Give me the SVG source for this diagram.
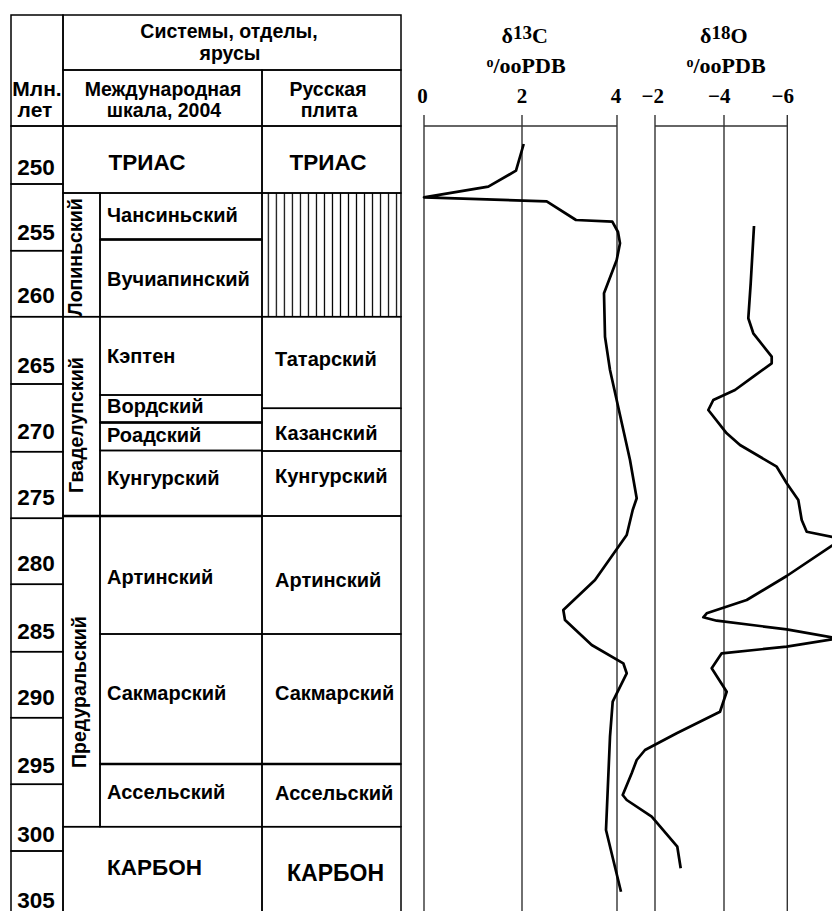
<svg xmlns="http://www.w3.org/2000/svg" width="832" height="911" viewBox="0 0 832 911">
<style>
.c{fill:none;stroke:#000;stroke-width:1.5}
.thk{stroke:#000;stroke-width:2.6}
.t{font-family:"Liberation Sans",Arial,sans-serif;font-weight:bold;font-size:19.5px;fill:#000}
.st{font-size:20px}
.b{font-size:22.5px}
.m{text-anchor:middle}
.s{font-family:"Liberation Serif","Times New Roman",serif;font-weight:bold;font-size:21px;fill:#000}
.ax{stroke:#333;stroke-width:1.4;fill:none}
.crv{fill:none;stroke:#000;stroke-width:2.7;stroke-linejoin:round;stroke-linecap:butt}
.h{stroke:#000;stroke-width:1.2}
</style>
<defs>
<pattern id="hatch" patternUnits="userSpaceOnUse" x="264.3" y="0" width="8.02" height="10">
<line x1="4" y1="0" x2="4" y2="10" class="h"/>
</pattern>
</defs>
<rect x="0" y="0" width="832" height="911" fill="#fff"/>

<!-- header -->
<g id="hdr-age"><rect class="c" x="11" y="15" width="52" height="111"/><text class="t m" x="37" y="96" style="font-size:21px">Млн.</text><text class="t m" x="35" y="117" style="font-size:21px">лет</text></g>
<g id="hdr-sys"><rect class="c" x="63" y="15" width="338" height="55"/><text class="t m" x="229" y="38">Системы, отделы,</text><text class="t m" x="230" y="60">ярусы</text></g>
<g id="hdr-intl"><rect class="c" x="63" y="70" width="199" height="56"/><text class="t m" x="163" y="96">Международная</text><text class="t m" x="164" y="117">шкала, 2004</text></g>
<g id="hdr-rus"><rect class="c" x="262" y="70" width="139" height="56"/><text class="t m" x="328" y="96">Русская</text><text class="t m" x="329" y="117">плита</text></g>

<!-- age column -->
<g id="age-250"><rect class="c" x="11" y="126" width="52" height="58"/><text class="t b m" x="36" y="175">250</text></g>
<g id="age-255"><rect class="c" x="11" y="184" width="52" height="66.7"/><text class="t b m" x="36" y="240">255</text></g>
<g id="age-260"><rect class="c" x="11" y="250.7" width="52" height="66"/><text class="t b m" x="36" y="303">260</text></g>
<g id="age-265"><rect class="c" x="11" y="316.7" width="52" height="67.3"/><text class="t b m" x="36" y="372.5">265</text></g>
<g id="age-270"><rect class="c" x="11" y="384" width="52" height="67.7"/><text class="t b m" x="36" y="439">270</text></g>
<g id="age-275"><rect class="c" x="11" y="451.7" width="52" height="66.6"/><text class="t b m" x="36" y="505">275</text></g>
<g id="age-280"><rect class="c" x="11" y="518.3" width="52" height="66"/><text class="t b m" x="36" y="571">280</text></g>
<g id="age-285"><rect class="c" x="11" y="584.3" width="52" height="67.4"/><text class="t b m" x="36" y="639">285</text></g>
<g id="age-290"><rect class="c" x="11" y="651.7" width="52" height="66"/><text class="t b m" x="36" y="705">290</text></g>
<g id="age-295"><rect class="c" x="11" y="717.7" width="52" height="66.6"/><text class="t b m" x="36" y="773">295</text></g>
<g id="age-300"><rect class="c" x="11" y="784.3" width="52" height="66.7"/><text class="t b m" x="36" y="841.5">300</text></g>
<g id="age-305"><rect class="c" x="11" y="851" width="52" height="80"/><text class="t b m" x="36" y="907.5">305</text></g>

<!-- international scale -->
<g id="intl-trias"><rect class="c" x="63" y="126" width="199" height="67"/><text class="t b m" x="147" y="170">ТРИАС</text></g>
<g id="ser-lopin"><rect class="c" x="63" y="193" width="37" height="123.7"/><text class="t" transform="translate(81.5,316) rotate(-90)">Лопиньский</text></g>
<g id="st-chans"><rect class="c" x="100" y="193" width="162" height="46.5"/><line class="thk" x1="100" y1="239.5" x2="262" y2="239.5"/><text class="t st" x="107" y="222">Чансиньский</text></g>
<g id="st-vuch"><rect class="c" x="100" y="239.5" width="162" height="77.2"/><text class="t st" x="107" y="286">Вучиапинский</text></g>
<g id="ser-guad"><rect class="c" x="63" y="316.7" width="37" height="199.3"/><text class="t" transform="translate(82.5,493) rotate(-90)">Гваделупский</text></g>
<g id="st-kep"><rect class="c" x="100" y="316.7" width="162" height="78.3"/><text class="t st" x="107" y="363">Кэптен</text></g>
<g id="st-word"><rect class="c" x="100" y="395" width="162" height="27.5"/><text class="t st" x="107" y="413">Вордский</text></g>
<g id="st-road"><rect class="c" x="100" y="422.5" width="162" height="28"/><line class="thk" x1="100" y1="422.5" x2="262" y2="422.5"/><text class="t st" x="107" y="442">Роадский</text></g>
<g id="st-kung"><rect class="c" x="100" y="450.5" width="162" height="65.5"/><text class="t st" x="107" y="485">Кунгурский</text></g>
<g id="ser-preur"><rect class="c" x="63" y="516" width="37" height="310.7"/><line class="thk" x1="63" y1="516" x2="262" y2="516"/><text class="t" transform="translate(86,768) rotate(-90)">Предуральский</text></g>
<g id="st-art"><rect class="c" x="100" y="516" width="162" height="118"/><text class="t st" x="107" y="584">Артинский</text></g>
<g id="st-sakm"><rect class="c" x="100" y="634" width="162" height="130"/><text class="t st" x="107" y="700">Сакмарский</text></g>
<g id="st-assel"><rect class="c" x="100" y="764" width="162" height="62.7"/><line class="thk" x1="100" y1="764" x2="262" y2="764"/><text class="t st" x="107" y="799">Ассельский</text></g>
<g id="intl-carb"><rect class="c" x="63" y="826.7" width="199" height="110"/><text class="t b" x="107" y="875">КАРБОН</text></g>

<!-- russian plate -->
<g id="rus-trias"><rect class="c" x="262" y="126" width="139" height="67"/><text class="t b m" x="328" y="170">ТРИАС</text></g>
<g id="rus-gap"><rect x="262" y="193" width="139" height="123.7" fill="url(#hatch)"/><rect class="c" x="262" y="193" width="139" height="123.7"/></g>
<g id="rus-tat"><rect class="c" x="262" y="316.7" width="139" height="91.6"/><text class="t st" x="275" y="366">Татарский</text></g>
<g id="rus-kaz"><rect class="c" x="262" y="408.3" width="139" height="42.7"/><text class="t st" x="275" y="440">Казанский</text></g>
<g id="rus-kung"><rect class="c" x="262" y="451" width="139" height="65"/><text class="t st" x="275" y="483">Кунгурский</text></g>
<g id="rus-art"><rect class="c" x="262" y="516" width="139" height="118"/><text class="t st" x="275" y="587">Артинский</text></g>
<g id="rus-sakm"><rect class="c" x="262" y="634" width="139" height="130"/><line class="thk" x1="262" y1="764" x2="401" y2="764"/><text class="t st" x="275" y="700">Сакмарский</text></g>
<g id="rus-assel"><rect class="c" x="262" y="764" width="139" height="62.7"/><text class="t st" x="275" y="800">Ассельский</text></g>
<g id="rus-carb"><rect class="c" x="262" y="826.7" width="139" height="110"/><text class="t" x="287" y="881" style="font-size:23px">КАРБОН</text></g>

<!-- carbon isotope chart -->
<g id="d13c-axis">
<text class="s" x="501.5" y="43" style="font-size:22px">δ<tspan style="font-size:19px" dy="-4">13</tspan><tspan dy="4">C</tspan></text>
<text class="s" x="486.5" y="73" style="font-size:22px"><tspan style="font-size:14px" dy="-6">o</tspan><tspan dy="6">/ooPDB</tspan></text>
<text class="s m" x="422.5" y="103">0</text>
<text class="s m" x="522" y="103">2</text>
<text class="s m" x="616" y="103">4</text>
<line class="ax" x1="424" y1="115" x2="424" y2="911"/>
<line class="ax" x1="522" y1="115" x2="522" y2="911"/>
<line class="ax" x1="617" y1="115" x2="617" y2="911"/>
<line class="ax" x1="424" y1="126" x2="617" y2="126"/>
</g>
<g id="d18o-axis">
<text class="s" x="700" y="43" style="font-size:22px">δ<tspan style="font-size:19px" dy="-4">18</tspan><tspan dy="4">O</tspan></text>
<text class="s" x="686.5" y="73" style="font-size:22px"><tspan style="font-size:14px" dy="-6">o</tspan><tspan dy="6">/ooPDB</tspan></text>
<text class="s" x="641.5" y="103">−2</text>
<text class="s" x="708" y="103">−4</text>
<text class="s" x="771.5" y="103">−6</text>
<line class="ax" x1="655" y1="115" x2="655" y2="911"/>
<line class="ax" x1="724" y1="115" x2="724" y2="911"/>
<line class="ax" x1="787.3" y1="115" x2="787.3" y2="911"/>
<line class="ax" x1="655" y1="126" x2="787.3" y2="126"/>
</g>
<g id="curves">
<polyline class="crv" points="523.7,144 516,170.7 488.3,186.7 424,197.3 546.7,201.3 576,220 612.3,221.7 618,232 620,243.3 616.7,260 604,293.3 605,336.7 610,370 630,460 636.7,498.3 632.7,510 626.7,535 595,580 563.3,610 565,620 591.7,645 623.3,663.3 626.7,673.3 612.7,701.7 610,736.7 606,830 621,891.7"/>
<polyline class="crv" points="754,226 750.7,283.3 748.3,318.3 753.3,333.3 771.7,356.7 771.7,363.3 753.3,376.7 735,390 713.3,400 708.3,410 726.7,433.3 740,445 776.7,466.7 786.7,483.3 798.3,500 801.7,520 806.7,531.7 842,539 786.7,576 746.7,600 706.7,613.3 703.3,617.3 716.7,620.7 786.7,629.3 838,638.5 786.7,646.7 721.7,653.3 711.7,668.3 726.7,691.7 720,711.7 676.7,733.3 645,750 636.7,760 631.7,773.3 622.7,795 626.7,800 651.7,816.7 677.3,846.7 680.7,868.3"/>
</g>
</svg>
